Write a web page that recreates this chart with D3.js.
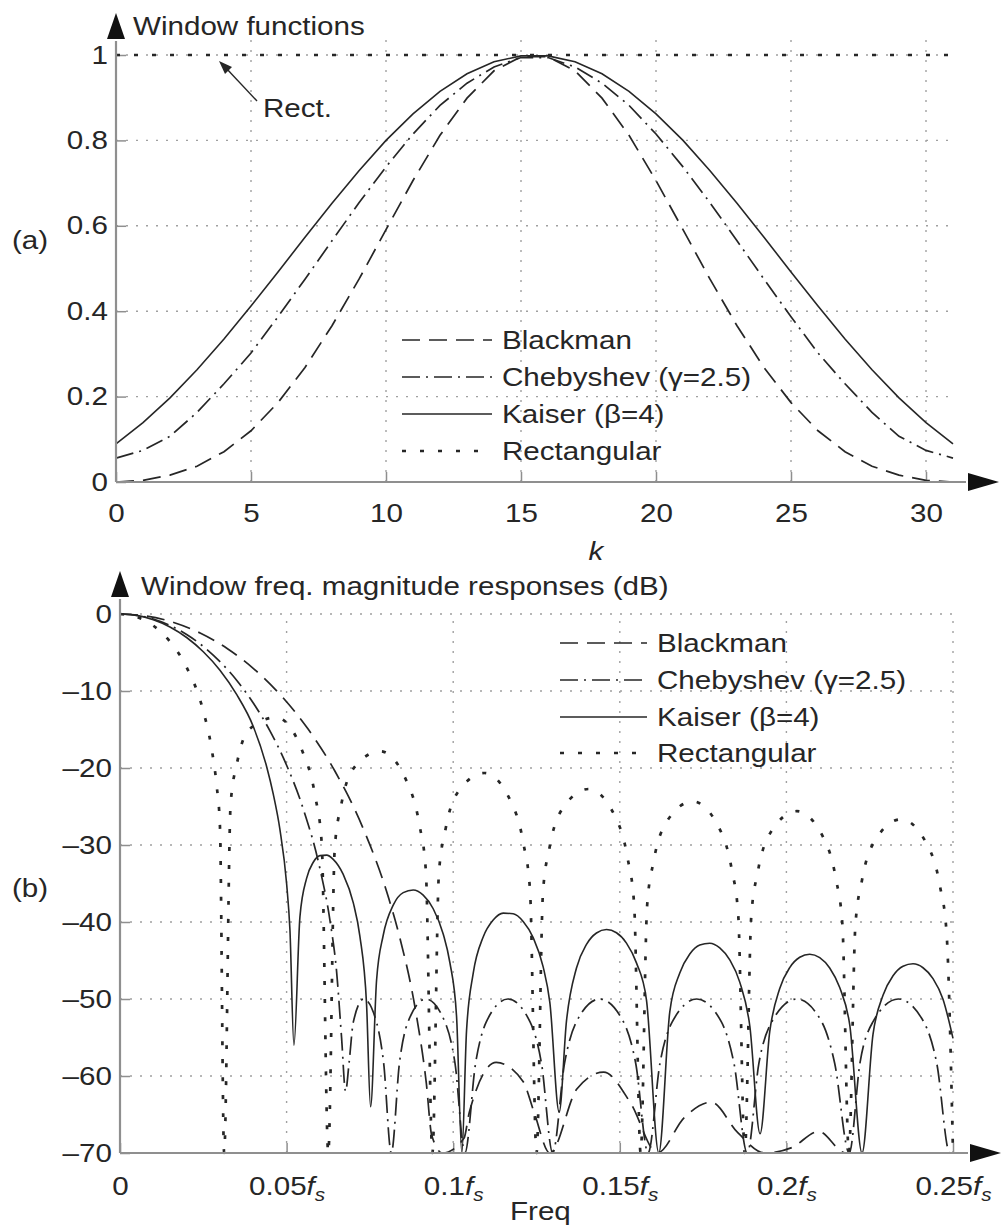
<!DOCTYPE html>
<html><head><meta charset="utf-8">
<script src="https://cdn.jsdelivr.net/npm/d3@7"></script>
<style>body{margin:0;background:#fff}svg{display:block}</style>
</head><body>
<svg id="chart" width="1002" height="1227"></svg>
<script>
// ---------------- DATA ----------------
const seriesNames = ["Blackman", "Chebyshev (γ=2.5)", "Kaiser (β=4)", "Rectangular"];

// (a) window functions, k = 0..31
const kIndex = [0,1,2,3,4,5,6,7,8,9,10,11,12,13,14,15,16,17,18,19,20,21,22,23,24,25,26,27,28,29,30,31];
const blackmanWin = [0.000,0.004,0.016,0.037,0.071,0.120,0.186,0.268,0.366,0.475,0.591,0.706,0.812,0.899,0.963,0.996,0.996,0.963,0.899,0.812,0.706,0.591,0.475,0.366,0.268,0.186,0.120,0.071,0.037,0.016,0.004,0.000];
const chebyshevWin = [0.056,0.074,0.107,0.163,0.230,0.302,0.387,0.475,0.565,0.654,0.738,0.815,0.882,0.934,0.972,0.994,0.994,0.972,0.934,0.882,0.815,0.738,0.654,0.565,0.475,0.387,0.302,0.230,0.163,0.107,0.074,0.056];
const kaiserWin = [0.089,0.139,0.197,0.263,0.335,0.412,0.492,0.573,0.653,0.729,0.800,0.862,0.915,0.956,0.984,0.998,0.998,0.984,0.956,0.915,0.862,0.800,0.729,0.653,0.573,0.492,0.412,0.335,0.263,0.197,0.139,0.089];
const rectWin = [1,1,1,1,1,1,1,1,1,1,1,1,1,1,1,1,1,1,1,1,1,1,1,1,1,1,1,1,1,1,1,1];

const topXTicks = [0,5,10,15,20,25,30];
const topXTickLabels = ["0","5","10","15","20","25","30"];
const topYTicks = [0,0.2,0.4,0.6,0.8,1];
const topYTickLabels = ["0","0.2","0.4","0.6","0.8","1"];

// (b) magnitude responses (dB), frequency in units of fs
const blackmanFreq = [0,0.00806,0.01613,0.02419,0.03226,0.04032,0.04839,0.05645,0.06452,0.07258,0.08065,0.08387,0.08871,0.09194,0.09355,0.09677,0.10323,0.10484,0.1129,0.12097,0.1242,0.12903,0.1371,0.14516,0.15323,0.16129,0.16935,0.17742,0.18548,0.19355,0.20161,0.20968,0.21774,0.25];
const blackmanDb   = [0,-0.27,-1.10,-2.50,-4.51,-7.18,-10.62,-14.95,-20.42,-27.45,-36.93,-41.86,-51.5,-60.96,-67.7,-70,-68.1,-64.7,-58.24,-60.7,-64.6,-70,-61.7,-59.5,-63.5,-70,-65.4,-63.4,-67.4,-70,-69.3,-67.2,-70,-70];

const chebyshevFreq = [0,0.005,0.01,0.02,0.025,0.03,0.035,0.04,0.045,0.05,0.055,0.06,0.063,0.065,0.0665,0.0677,
  0.06874,0.07002,0.07314,0.07698,0.07913,0.08143,
  0.08386,0.0864,0.09179,0.09755,0.10054,0.10351,
  0.10672,0.1099,0.11641,0.1231,0.12649,0.12986,
  0.13342,0.13691,0.14399,0.15115,0.15477,0.1585,
  0.16206,0.1657,0.17309,0.18053,0.18426,0.18826,
  0.19175,0.19555,0.20307,0.21065,0.21449,0.21886,
  0.22207,0.22592,0.23358,0.24127,0.24512,0.24903,0.25];
const chebyshevDb = [0,-0.17,-0.66,-2.66,-4.21,-6.18,-8.60,-11.56,-15.18,-19.64,-25.31,-33.06,-39.76,-46.42,-55.02,-62,
  -58.34,-53.01,-50,-53.01,-58.34,-70,
  -58.34,-53.01,-50,-53.01,-58.34,-70,
  -58.34,-53.01,-50,-53.01,-58.34,-70,
  -58.34,-53.01,-50,-53.01,-58.34,-70,
  -58.34,-53.01,-50,-53.01,-58.34,-70,
  -58.34,-53.01,-50,-53.01,-58.34,-70,
  -58.34,-53.01,-50,-53.01,-58.34,-70,-69.8];

const kaiserFreq = [0,0.005,0.01,0.015,0.02,0.025,0.03,0.035,0.04,0.044,0.046,0.048,0.05,0.051,0.0522,
  0.054,0.056,0.058,0.06,0.062,0.064,0.067,0.07,0.072,0.074,0.0752,
  0.077,0.079,0.082,0.085,0.088,0.091,0.094,0.097,0.099,0.101,0.1026,
  0.104,0.106,0.109,0.112,0.115,0.118,0.121,0.124,0.127,0.129,0.1318,
  0.134,0.137,0.14,0.143,0.146,0.149,0.152,0.155,0.158,0.1617,
  0.165,0.168,0.171,0.174,0.177,0.18,0.183,0.186,0.189,0.1921,
  0.195,0.198,0.201,0.204,0.207,0.21,0.213,0.216,0.219,0.2227,
  0.226,0.229,0.232,0.235,0.238,0.241,0.244,0.247,0.25];
const kaiserDb = [0,-0.18,-0.74,-1.68,-3.05,-4.90,-7.30,-10.45,-14.60,-19.80,-23.40,-28.00,-35.00,-41.00,-56,
  -39.34,-34.33,-32.24,-31.38,-31.31,-31.86,-33.82,-37.49,-41.86,-50.7,-64,
  -47.56,-41.72,-37.81,-36.18,-35.84,-36.52,-38.28,-41.55,-45.26,-52.2,-70,
  -54.14,-46.68,-41.95,-39.75,-38.85,-38.93,-39.93,-42.03,-45.83,-50.43,-64.7,
  -52.85,-45.97,-42.91,-41.43,-40.98,-41.40,-42.74,-45.31,-50.11,-70,
  -51.66,-46.62,-44.15,-42.98,-42.75,-43.36,-44.92,-47.81,-53.44,-67.5,
  -54.25,-48.64,-45.92,-44.58,-44.18,-44.62,-45.97,-48.52,-53.33,-70,
  -54.57,-49.52,-46.99,-45.75,-45.43,-45.94,-47.35,-50.02,-55.11];

const rectFreq = [0,0.005,0.01,0.015,0.02,0.025,0.0275,0.029,0.03,0.03125,
  0.033203,0.035156,0.039063,0.046875,0.054688,0.058594,0.060547,0.0625,
  0.064453,0.066406,0.070313,0.078125,0.085938,0.089844,0.091797,0.09375,
  0.095703,0.097656,0.101563,0.109375,0.117188,0.121094,0.123047,0.125,
  0.126953,0.128906,0.132813,0.140625,0.148438,0.152344,0.154297,0.15625,
  0.158203,0.160156,0.164063,0.171875,0.179688,0.183594,0.185547,0.1875,
  0.189453,0.191406,0.195313,0.203125,0.210938,0.214844,0.216797,0.21875,
  0.220703,0.222656,0.226563,0.234375,0.242188,0.246094,0.248047,0.25];
const rectDb = [0,-0.37,-1.51,-3.58,-6.93,-12.61,-17.50,-22.26,-27.6,-70,
  -24.65,-19.29,-14.87,-13.43,-17.77,-23.69,-29.84,-70,
  -30.37,-24.77,-19.93,-17.82,-21.64,-27.34,-33.38,-70,
  -33.73,-28.05,-23.04,-20.65,-24.24,-29.84,-35.83,-70,
  -36.09,-30.35,-25.27,-22.73,-26.17,-31.71,-37.67,-70,
  -37.87,-32.11,-26.97,-24.33,-27.69,-33.18,-39.12,-70,
  -39.28,-33.50,-28.33,-25.61,-28.90,-34.37,-40.30,-70,
  -40.43,-34.63,-29.43,-26.66,-29.90,-35.34,-41.26,-70];

const botXTicks = [0,0.05,0.1,0.15,0.2,0.25];
const botXTickLabels = ["0","0.05","0.1","0.15","0.2","0.25"];
const botYTicks = [0,-10,-20,-30,-40,-50,-60,-70];
const botYTickLabels = ["0","–10","–20","–30","–40","–50","–60","–70"];

// ---------------- STYLE ----------------
const FONT = '"Liberation Sans", Arial, Helvetica, sans-serif';
const FS = 25.5, SX = 1.16;
const INK = "#262626", AXIS = "#8f8f8f", GRID = "#a0a0a0";
const dashes = ["18,9", "18,6,2,6", null, "4,14"];
const widths = [1.7, 1.7, 1.6, 2.7];

const svg = d3.select("#chart");

function label(x, y, parts, anchor, size) {
  const t = svg.append("text")
    .attr("transform", `translate(${x},${y}) scale(${SX},1)`)
    .attr("text-anchor", anchor || "start")
    .attr("font-family", FONT).attr("font-size", size || FS).attr("fill", INK);
  parts.forEach(p => {
    const ts = t.append("tspan").text(p.t);
    if (p.i) ts.attr("font-style", "italic");
    if (p.sub) ts.attr("font-size", (size || FS) * 0.7).attr("dy", "0.32em");
  });
  return t;
}

function styleAxis(g) {
  g.select(".domain").remove();
  g.selectAll(".tick line").attr("stroke", AXIS).attr("stroke-width", 1.5);
  g.selectAll(".tick text").attr("font-family", FONT).attr("font-size", FS)
    .attr("fill", INK).attr("transform", `scale(${SX},1)`);
}

function drawPanel(o) {
  const {x, y, xTicks, yTicks, xLabels, yLabels, xGridTop, series, curve, xPad} = o;
  const gGrid = svg.append("g").attr("stroke", GRID).attr("stroke-width", 1.4)
    .attr("stroke-dasharray", "2,8").attr("fill", "none");
  xTicks.filter(d => d !== x.domain()[0]).forEach(d => {
    gGrid.append("line").attr("x1", x(d)).attr("x2", x(d)).attr("y1", y(y.domain()[0])).attr("y2", xGridTop);
  });
  yTicks.filter(d => d !== y.domain()[0]).forEach(d => {
    gGrid.append("line").attr("x1", x(x.domain()[0])).attr("x2", x(x.domain()[1])).attr("y1", y(d)).attr("y2", y(d));
  });
  const gx = svg.append("g").attr("transform", `translate(0,${y(y.domain()[0])})`)
    .call(d3.axisBottom(x).tickValues(xTicks).tickFormat((d, i) => xLabels[i]).tickSizeInner(-10).tickSizeOuter(0).tickPadding(xPad));
  styleAxis(gx);
  const gy = svg.append("g").attr("transform", `translate(${x(x.domain()[0])},0)`)
    .call(d3.axisLeft(y).tickValues(yTicks).tickFormat((d, i) => yLabels[i]).tickSizeInner(-10).tickSizeOuter(0).tickPadding(7));
  styleAxis(gy);
  series.forEach((s, i) => {
    const line = d3.line().x(d => x(d[0])).y(d => y(d[1])).curve(curve);
    svg.append("path").datum(d3.zip(s.x, s.y)).attr("d", line)
      .attr("fill", "none").attr("stroke", INK).attr("stroke-width", widths[i])
      .attr("stroke-dasharray", dashes[i]);
  });
  return gx;
}

function axisArrows(x0, y0, xEnd, yTopBase) {
  svg.append("line").attr("x1", x0).attr("y1", y0).attr("x2", xEnd - 2).attr("y2", y0).attr("stroke", AXIS).attr("stroke-width", 2.2);
  svg.append("line").attr("x1", x0).attr("y1", y0).attr("x2", x0).attr("y2", yTopBase + 2).attr("stroke", AXIS).attr("stroke-width", 2.2);
  svg.append("path").attr("d", `M${xEnd},${y0 - 9}L${xEnd + 31},${y0}L${xEnd},${y0 + 9}Z`).attr("fill", "#111");
  svg.append("path").attr("d", `M${x0 - 9},${yTopBase}L${x0},${yTopBase - 26}L${x0 + 9},${yTopBase}Z`).attr("fill", "#111");
}

function legend(lx0, lx1, tx, rows) {
  seriesNames.forEach((n, i) => {
    svg.append("line").attr("x1", lx0).attr("x2", lx1).attr("y1", rows[i]).attr("y2", rows[i])
      .attr("stroke", INK).attr("stroke-width", widths[i]).attr("stroke-dasharray", dashes[i]);
    label(tx, rows[i] + 9, [{t: n}]);
  });
}

// ---------------- PANEL (a) ----------------
const xTop = d3.scaleLinear().domain([0, 31]).range([116, 953]);
const yTop = d3.scaleLinear().domain([0, 1]).range([482, 55]);
drawPanel({
  x: xTop, y: yTop, xTicks: topXTicks, yTicks: topYTicks, xLabels: topXTickLabels, yLabels: topYTickLabels,
  xGridTop: yTop(1.035), curve: d3.curveLinear, xPad: 22,
  series: [
    {x: kIndex, y: blackmanWin}, {x: kIndex, y: chebyshevWin}, {x: kIndex, y: kaiserWin}, {x: kIndex, y: rectWin}
  ]
});
axisArrows(116, 482, 968, 39);
label(133, 35, [{t: "Window functions"}]);
label(12, 249, [{t: "(a)"}]);
label(596, 560, [{t: "k", i: true}], "middle");
legend(402, 492, 502, [340, 377, 414, 451]);
label(263, 117, [{t: "Rect."}]);
svg.append("line").attr("x1", 257).attr("y1", 101).attr("x2", 226).attr("y2", 68).attr("stroke", INK).attr("stroke-width", 1.4);
svg.append("path").attr("d", "M219,61L232,67L225,74Z").attr("fill", INK);

// ---------------- PANEL (b) ----------------
const xBot = d3.scaleLinear().domain([0, 0.25]).range([120, 953]);
const yBot = d3.scaleLinear().domain([-70, 0]).range([1153, 614]);
const gxb = drawPanel({
  x: xBot, y: yBot, xTicks: botXTicks, yTicks: botYTicks, xLabels: botXTickLabels, yLabels: botYTickLabels,
  xGridTop: yBot(0), curve: d3.curveMonotoneX, xPad: 24,
  series: [
    {x: blackmanFreq, y: blackmanDb}, {x: chebyshevFreq, y: chebyshevDb}, {x: kaiserFreq, y: kaiserDb}, {x: rectFreq, y: rectDb}
  ]
});
gxb.selectAll(".tick text").each(function(d, i) {
  if (i === 0) return;
  const t = d3.select(this);
  t.append("tspan").attr("font-style", "italic").text("f");
  t.append("tspan").attr("font-style", "italic").attr("font-size", FS * 0.7).attr("dy", "0.32em").text("s");
});
axisArrows(120, 1153, 970, 597);
label(141, 595, [{t: "Window freq. magnitude responses (dB)"}]);
label(12, 897, [{t: "(b)"}]);
label(510, 1220, [{t: "Freq"}]);
legend(560, 647, 657, [643, 680, 717, 753]);
</script>
</body></html>
